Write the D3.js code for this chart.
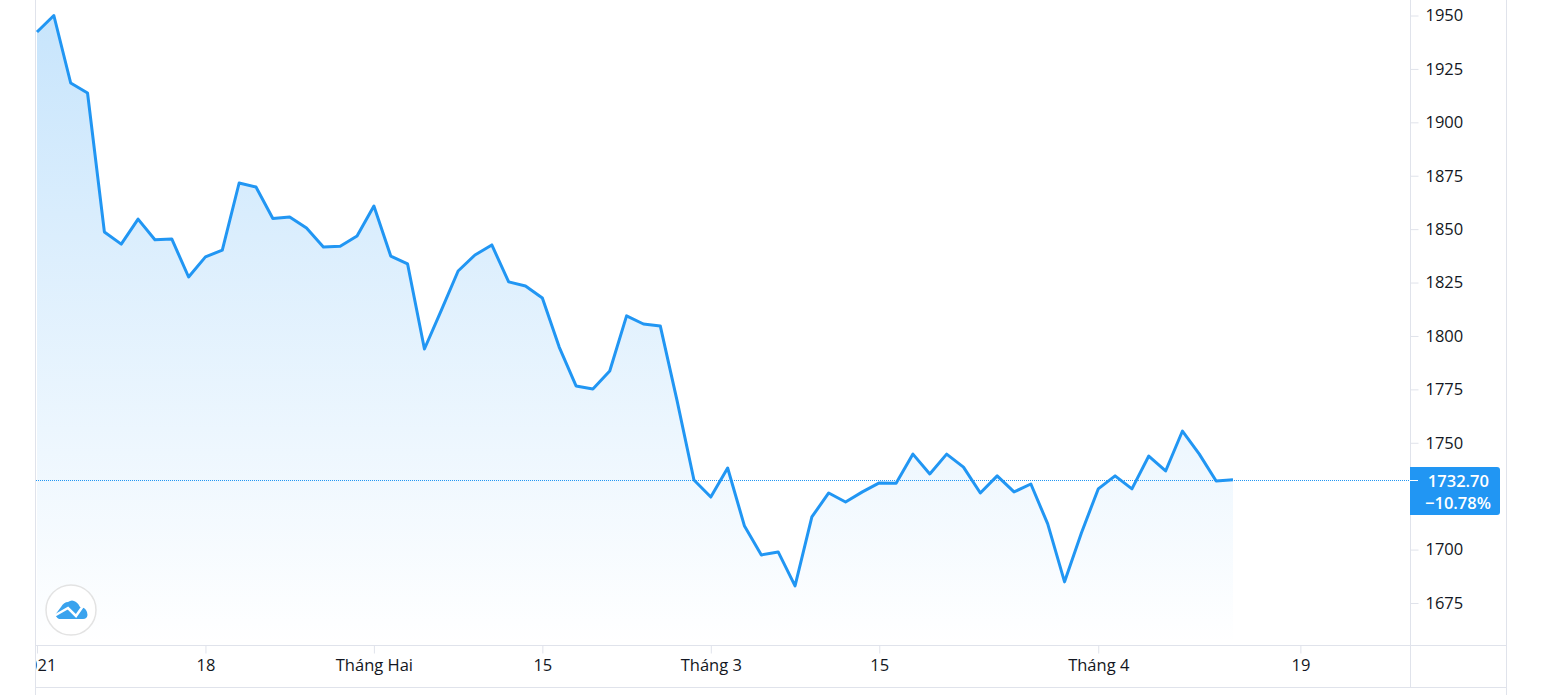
<!DOCTYPE html>
<html>
<head>
<meta charset="utf-8">
<script src="https://cdn.jsdelivr.net/npm/d3@7"></script>
<style>
  html, body { margin: 0; padding: 0; background: #fff; overflow: hidden; }
  svg { display: block; }
  text { font-family: "Open Sans", "Noto Sans", sans-serif; }
</style>
</head>
<body>
<svg id="chart" width="1546" height="695"></svg>
<script>
var prices = [
  1942.3, 1950, 1918.4, 1913.7, 1848.7, 1843, 1854.7, 1845, 1845.4, 1827.6,
  1837, 1840.2, 1871.6, 1869.7, 1855, 1855.7, 1850.5, 1841.6, 1842, 1846.8,
  1860.8, 1837.4, 1833.7, 1793.9, 1812, 1830.4, 1837.9, 1842.6, 1825.3, 1823.4,
  1817.8, 1794.8, 1776.6, 1775.2, 1783.6, 1809.4, 1805.6, 1804.7, 1769.6, 1732.6,
  1724.6, 1738.2, 1711, 1697.5, 1698.9, 1683, 1715.3, 1726.5, 1722.3, 1727,
  1731.2, 1731, 1744.7, 1735.4, 1744.7, 1738.6, 1726.5, 1734.5, 1727, 1730.7,
  1712, 1684.9, 1707.8, 1728.4, 1734.5, 1728.4, 1743.8, 1736.8, 1755.5, 1744.7,
  1732.1, 1732.7
];
var priceTicks = [1675, 1700, 1725, 1750, 1775, 1800, 1825, 1850, 1875, 1900, 1925, 1950];
// 1725 is hidden behind the last price label
var hiddenTick = 1725;
var timeTicks = [0, 10, 20, 30, 40, 50, 63, 75];
var timeLabels = ["2021", "18", "Tháng Hai", "15", "Tháng 3", "15", "Tháng 4", "19"];
var lastPrice = "1732.70";
var lastChange = "−10.78%";

var paneLeft = 36, paneRight = 1410, paneBottom = 645, timeBottom = 687, chartRight = 1506;
var gridColor = "#e0e3eb", textColor = "#131722", lineColor = "#2196f3";

var svg = d3.select("#chart");

var x = d3.scaleLinear().domain([0, 71]).range([37, 1233]);
var y = d3.scaleLinear().domain([1675, 1950]).range([603, 15.5]);
var lastY = Math.round(y(1732.7)) + 0.5;

var defs = svg.append("defs");
defs.append("clipPath").attr("id", "pane-clip")
  .append("rect").attr("x", paneLeft).attr("y", -paneBottom)
  .attr("width", paneRight - paneLeft).attr("height", timeBottom + paneBottom);

var grad = defs.append("linearGradient").attr("id", "area-grad")
  .attr("gradientUnits", "userSpaceOnUse")
  .attr("x1", 0).attr("x2", 0).attr("y1", 15).attr("y2", 645);
grad.append("stop").attr("offset", 0).attr("stop-color", lineColor).attr("stop-opacity", 0.25);
grad.append("stop").attr("offset", 1).attr("stop-color", lineColor).attr("stop-opacity", 0);

// area + line
var area = d3.area().x(function(d, i) { return x(i); }).y0(paneBottom).y1(function(d) { return y(d); });
var line = d3.line().x(function(d, i) { return x(i); }).y(function(d) { return y(d); });

svg.append("path").datum(prices).attr("d", area).attr("fill", "url(#area-grad)");

// last price dotted line
svg.append("line")
  .attr("x1", paneLeft).attr("x2", paneRight)
  .attr("y1", lastY).attr("y2", lastY)
  .attr("stroke", lineColor).attr("stroke-width", 1).attr("stroke-dasharray", "1 1");

svg.append("path").datum(prices).attr("d", line)
  .attr("fill", "none").attr("stroke", lineColor)
  .attr("stroke-width", 3).attr("stroke-linejoin", "round");

// frame
function frame(x1, y1, x2, y2) {
  svg.append("line").attr("x1", x1).attr("y1", y1).attr("x2", x2).attr("y2", y2)
    .attr("stroke", gridColor).attr("stroke-width", 1);
}
frame(35.5, 0, 35.5, 695);
frame(chartRight + 0.5, 0, chartRight + 0.5, 695);
frame(paneRight + 0.5, 0, paneRight + 0.5, timeBottom);
frame(paneLeft, paneBottom + 0.5, chartRight, paneBottom + 0.5);
frame(paneLeft, timeBottom + 0.5, chartRight, timeBottom + 0.5);

// price axis
var yAxis = svg.append("g")
  .attr("transform", "translate(" + (paneRight + 0.5) + ",0)")
  .call(d3.axisRight(y).tickValues(priceTicks.filter(function(d) { return d != hiddenTick; }))
    .tickSize(8).tickPadding(7).tickFormat(d3.format("d")));
yAxis.select(".domain").remove();
yAxis.selectAll("line").attr("stroke", gridColor);
yAxis.selectAll("text").attr("fill", textColor).style("font-size", "16.5px");

// time axis
var xAxis = svg.append("g")
  .attr("clip-path", "url(#pane-clip)")
  .attr("transform", "translate(0," + (paneBottom + 0.5) + ")")
  .call(d3.axisBottom(x).tickValues(timeTicks).tickSize(8).tickPadding(6)
    .tickFormat(function(d, i) { return timeLabels[i]; }));
xAxis.select(".domain").remove();
xAxis.selectAll("line").attr("stroke", gridColor);
xAxis.selectAll("text").attr("fill", textColor).style("font-size", "16.5px");

// last price label
svg.append("path")
  .attr("d", "M1410 467H1497a3 3 0 0 1 3 3V512a3 3 0 0 1 -3 3H1410Z")
  .attr("fill", lineColor);
svg.append("line")
  .attr("x1", 1410).attr("x2", 1418)
  .attr("y1", lastY).attr("y2", lastY)
  .attr("stroke", "#fff");
svg.append("text").attr("x", 1489).attr("y", 486.500).attr("text-anchor", "end")
  .attr("fill", "#fff").style("font-size", "16.5px").style("font-weight", 600).text(lastPrice);
svg.append("text").attr("x", 1491).attr("y", 508.500).attr("text-anchor", "end")
  .attr("fill", "#fff").style("font-size", "16.5px").style("font-weight", 600).text(lastChange);

// logo
var logo = svg.append("g");
logo.append("circle").attr("cx", 71).attr("cy", 610).attr("r", 25)
  .attr("fill", "#fff").attr("stroke", "#e3e3e3").attr("stroke-width", 1.5);
logo.append("path")
  .attr("d", "M55 615 L61 607 Q64 602 68 602 Q72 599 76 602 Q79 604 80 607 Q85 607 87 612 L87.500 615 Q87 619 83 619 L59 619 Q57 618 55 615Z")
  .attr("fill", "#3aa3ee");
logo.append("path")
  .attr("d", "M54 616 L68 608 L76 616 L83 606")
  .attr("fill", "none").attr("stroke", "#fff").attr("stroke-width", 2.5);
</script>
</body>
</html>
